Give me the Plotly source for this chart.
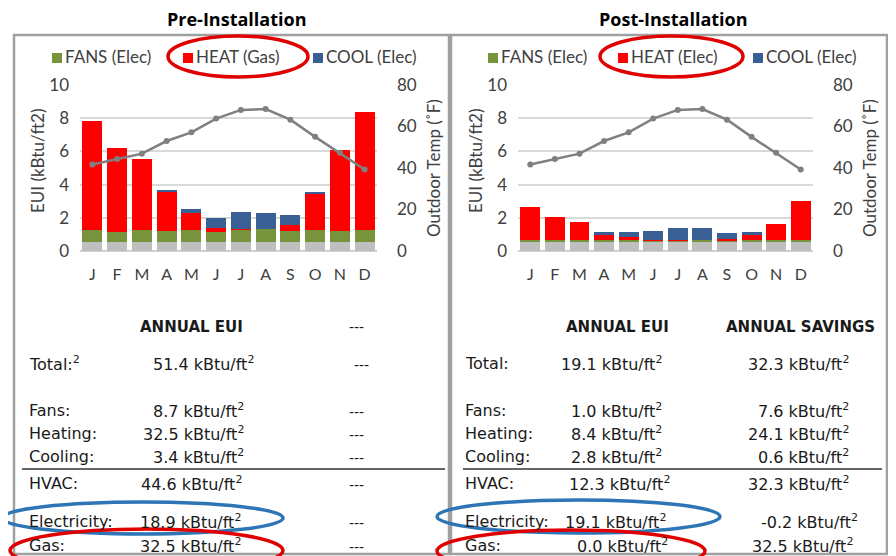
import plotly.graph_objects as go

# ---------------- data ----------------
months = ["J", "F", "M", "A", "M", "J", "J", "A", "S", "O", "N", "D"]
outdoor_temp_f = [41.7, 44.3, 46.9, 53.0, 57.2, 63.8, 68.0, 68.4, 63.3, 55.0, 47.3, 39.3]

pre_other = [0.55, 0.55, 0.55, 0.55, 0.55, 0.55, 0.55, 0.55, 0.55, 0.55, 0.55, 0.55]
pre_fans = [0.70, 0.60, 0.70, 0.65, 0.70, 0.60, 0.75, 0.75, 0.65, 0.70, 0.65, 0.70]
pre_heat = [6.58, 5.08, 4.30, 2.36, 1.04, 0.24, 0.05, 0.00, 0.39, 2.21, 4.88, 7.12]
pre_cool = [0.00, 0.00, 0.00, 0.10, 0.26, 0.62, 1.00, 1.00, 0.56, 0.06, 0.00, 0.00]

post_other = [0.57, 0.57, 0.57, 0.57, 0.57, 0.57, 0.57, 0.57, 0.57, 0.57, 0.57, 0.57]
post_fans = [0.07, 0.07, 0.07, 0.07, 0.07, 0.07, 0.07, 0.07, 0.07, 0.07, 0.07, 0.07]
post_heat = [2.00, 1.40, 1.08, 0.35, 0.20, 0.05, 0.03, 0.00, 0.10, 0.35, 1.00, 2.40]
post_cool = [0.00, 0.00, 0.00, 0.17, 0.28, 0.50, 0.72, 0.72, 0.36, 0.13, 0.00, 0.00]

row_labels = ["Total:", "Fans:", "Heating:", "Cooling:", "HVAC:", "Electricity:", "Gas:"]
pre_eui = [51.4, 8.7, 32.5, 3.4, 44.6, 18.9, 32.5]
post_eui = [19.1, 1.0, 8.4, 2.8, 12.3, 19.1, 0.0]
annual_savings = [32.3, 7.6, 24.1, 0.6, 32.3, -0.2, 32.5]

panel_titles = ["Pre-Installation", "Post-Installation"]
legend_pre = ["FANS (Elec)", "HEAT (Gas)", "COOL (Elec)"]
legend_post = ["FANS (Elec)", "HEAT (Elec)", "COOL (Elec)"]

# ---------------- style ----------------
OFF = 8                      # page body margin
FW, FH = 896 - OFF, 556 - OFF
C_OTHER = "#BFBFBF"
C_FANS = "#77933C"
C_HEAT = "#FF0000"
C_COOL = "#3A5F94"
C_LINE = "#808080"
C_TXT = "#404040"
C_TAB = "#1A1A1A"
CHART_FONT = "Lato"
TAB_FONT = "DejaVu Sans"


def px(x):
    return (x - OFF) / FW


def py(y):
    return 1 - (y - OFF) / FH


fig = go.Figure()
xs = list(range(len(months)))


def add_panel(xa, ya, ya2, other, fans, heat, cool):
    for vals, col in [(other, C_OTHER), (fans, C_FANS), (heat, C_HEAT), (cool, C_COOL)]:
        fig.add_trace(go.Bar(x=xs, y=vals, marker=dict(color=col, line=dict(width=0)),
                             xaxis=xa, yaxis=ya, showlegend=False, hoverinfo="skip"))
    fig.add_trace(go.Scatter(x=xs, y=outdoor_temp_f, mode="lines+markers",
                             line=dict(color=C_LINE, width=2.5),
                             marker=dict(color=C_LINE, size=6),
                             xaxis=xa, yaxis=ya2, showlegend=False, hoverinfo="skip"))


add_panel("x", "y", "y2", pre_other, pre_fans, pre_heat, pre_cool)
add_panel("x2", "y3", "y4", post_other, post_fans, post_heat, post_cool)

ydom = [py(251), py(85)]
xcommon = dict(range=[-0.5, 11.5], tickvals=xs, ticktext=months, showgrid=False,
               zeroline=False, showline=False, ticks="", ticklabelstandoff=12,
               automargin=False,
               tickfont=dict(family=CHART_FONT, size=16, color=C_TXT), fixedrange=True)
ycommon = dict(range=[0, 10], dtick=2, showgrid=True, gridcolor="#D9D9D9", gridwidth=1.5,
               zeroline=True, zerolinecolor="#D0D0D0", zerolinewidth=1.5, ticks="",
               ticklabelstandoff=10, automargin=False,
               tickfont=dict(family=CHART_FONT, size=17, color=C_TXT), domain=ydom)
y2common = dict(range=[0, 80], dtick=20, showgrid=False, zeroline=False, side="right",
                ticks="", ticklabelstandoff=19, automargin=False,
                tickfont=dict(family=CHART_FONT, size=17, color=C_TXT))

fig.update_layout(
    width=FW, height=FH, margin=dict(l=0, r=0, t=0, b=0, pad=0, autoexpand=False),
    paper_bgcolor="white", plot_bgcolor="white",
    barmode="stack", bargap=0.19, showlegend=False,
    xaxis=dict(domain=[px(80), px(377)], anchor="y", **xcommon),
    yaxis=dict(anchor="x", **ycommon),
    yaxis2=dict(anchor="x", overlaying="y", **y2common),
    xaxis2=dict(domain=[px(518), px(813)], anchor="y3", **xcommon),
    yaxis3=dict(anchor="x2", **ycommon),
    yaxis4=dict(anchor="x2", overlaying="y3", **y2common),
)

ann = []
shapes = []


def text(x, y, s, size=16, family=TAB_FONT, color=C_TAB, xanchor="left", bold=False,
         angle=0, pad=1):
    if bold:
        s = "<b>" + s + "</b>"
    ann.append(dict(x=px(x), y=py(y), xref="paper", yref="paper", text=s, showarrow=False,
                    xanchor=xanchor, yanchor="middle", textangle=angle, borderpad=pad,
                    font=dict(family=family, size=size, color=color)))


# panel titles
text(237, 19, panel_titles[0], size=18, family="Open Sans", color="#000000",
     xanchor="center", bold=True, pad=0)
text(673, 19, panel_titles[1], size=18, family="Open Sans", color="#000000",
     xanchor="center", bold=True, pad=0)

# panel borders
for x0, x1 in [(14, 449), (451, 887)]:
    shapes.append(dict(type="rect", xref="paper", yref="paper", x0=px(x0), x1=px(x1),
                       y0=py(554), y1=py(35), line=dict(color="#A0A0A0", width=2.5)))

# axis titles
for off in (0, 438):
    text(38 + off, 161, "EUI (kBtu/ft2)", size=17, family=CHART_FONT, color=C_TXT,
         xanchor="center", angle=-90)
    text(433 + off - 2 * (off > 0), 168, "Outdoor Temp (˚F)", size=17, family=CHART_FONT,
         color=C_TXT, xanchor="center", angle=-90)

# legends
for sq_x, names in [((52, 183, 313), legend_pre), ((488, 618, 753), legend_post)]:
    for sx, name, col in zip(sq_x, names, [C_FANS, C_HEAT, C_COOL]):
        shapes.append(dict(type="rect", xref="paper", yref="paper", x0=px(sx), x1=px(sx + 10),
                           y0=py(63), y1=py(53), fillcolor=col, line=dict(width=0)))
        text(sx + 11, 57, name, size=17, family=CHART_FONT, color=C_TXT)

# tables
row_y = [363, 410, 433, 456, 483, 521, 545]
sup2 = '<sup><span style="font-size:11px">2</span></sup>'
unit = " kBtu/ft" + sup2

# left (pre)
text(191, 327, "ANNUAL EUI", size=15, xanchor="center", bold=True)
text(356, 327, "---", size=14, xanchor="center")
pre_right = [256, 246, 246, 246, 244, 243, 243]
for i, (lab, v) in enumerate(zip(row_labels, pre_eui)):
    lab_s = lab + sup2 if i == 0 else lab
    text(27, row_y[i], lab_s)
    text(pre_right[i], row_y[i], f"{v:.1f}" + unit, xanchor="right")
    text(361 if i == 0 else 356, row_y[i] + 2, "---", size=14, xanchor="center")

# right (post)
text(617, 327, "ANNUAL EUI", size=15, xanchor="center", bold=True)
text(800, 327, "ANNUAL SAVINGS", size=15, xanchor="center", bold=True)
post_right = [664, 664, 664, 664, 672, 668, 670]
sav_right = [851, 851, 851, 851, 851, 860, 855]
for i, (lab, v, s) in enumerate(zip(row_labels, post_eui, annual_savings)):
    text(463, row_y[i], lab)
    text(post_right[i], row_y[i], f"{v:.1f}" + unit, xanchor="right")
    text(sav_right[i], row_y[i], f"{s:.1f}" + unit, xanchor="right")

# separator lines
for x0, x1 in [(22, 445), (463, 882)]:
    shapes.append(dict(type="line", xref="paper", yref="paper", x0=px(x0), x1=px(x1),
                       y0=py(469), y1=py(469), line=dict(color="#333333", width=1.5)))

# highlight ellipses
ellipses = [
    ((168, 36, 308, 77), "#E00000"),
    ((600, 36, 743, 77), "#E00000"),
    ((2, 502, 283, 534), "#2E75B6"),
    ((10, 529, 283, 572), "#E00000"),
    ((437, 500, 720, 533), "#2E75B6"),
    ((437, 530, 705, 572), "#E00000"),
]
for (x0, y0, x1, y1), col in ellipses:
    shapes.append(dict(type="circle", xref="paper", yref="paper", x0=px(x0), x1=px(x1),
                       y0=py(y1), y1=py(y0), line=dict(color=col, width=3.5)))

fig.update_layout(annotations=ann, shapes=shapes)
fig.write_html("out.html")
